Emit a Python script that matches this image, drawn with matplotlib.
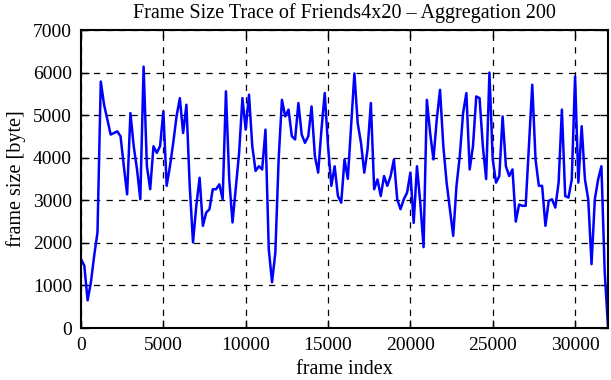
import numpy as np
import matplotlib
matplotlib.use("Agg")
import matplotlib.pyplot as plt

# frame size trace, one value every 200 frames (aggregation 200)
step = 200
frame_size = [
    1620, 1465, 650, 1075, 1700, 2245, 5790, 5245, 4895, 4545,
    4580, 4620, 4505, 3800, 3140, 5050, 4270, 3725, 3025, 6140,
    3800, 3260, 4270, 4115, 4270, 5090, 3340, 3800, 4350, 4970,
    5400, 4580, 5245, 3340, 2010, 2870, 3530, 2400, 2710, 2790,
    3260, 3260, 3375, 3025, 5560, 3490, 2480, 3300, 4115, 5400,
    4660, 5480, 4270, 3690, 3800, 3725, 4660, 1855, 1075, 1775,
    3960, 5360, 4970, 5130, 4505, 4430, 5285, 4545, 4350, 4505,
    5205, 4040, 3650, 4660, 5520, 4270, 3340, 3800, 3100, 2945,
    3960, 3505, 4740, 5980, 4815, 4350, 3650, 4195, 5285, 3260,
    3490, 3100, 3570, 3340, 3570, 3960, 3025, 2790, 3025, 3180,
    3650, 2470, 3800, 2945, 1900, 5360, 4580, 3960, 4895, 5595,
    4270, 3415, 2790, 2165, 3340, 4040, 5050, 5520, 3725, 4270,
    5440, 5400, 4270, 3500, 6000, 3960, 3415, 3570, 4970, 3800,
    3570, 3725, 2500, 2900, 2870, 2870, 4270, 5715, 3960, 3340,
    3340, 2400, 2985, 3025, 2830, 3415, 5130, 3100, 3065, 3490,
    5910, 3415, 4740, 3490, 3025, 1500, 3025, 3490, 3800, 1310,
    25,
]
frame_index = np.arange(len(frame_size)) * step

x_ticks = [0, 5000, 10000, 15000, 20000, 25000, 30000]
y_ticks = [0, 1000, 2000, 3000, 4000, 5000, 6000, 7000]

plt.rcParams['font.family'] = ['Liberation Serif', 'DejaVu Serif']

fig = plt.figure(figsize=(6.11, 3.80), dpi=100)
ax = fig.add_axes([0.1326, 0.1368, 0.8625, 0.7842])

ax.plot(frame_index, frame_size, color='#0000ff', linewidth=1.8)

ax.set_xlim(0, 32000)
ax.set_ylim(0, 7000)
ax.set_xticks(x_ticks)
ax.set_yticks(y_ticks)
ax.tick_params(direction='in', top=True, right=True, length=6, width=1,
               labelsize=14, pad=6.5)
for s in ax.spines.values():
    s.set_linewidth(1.5)

ax.grid(True, color='black', linestyle=(0, (5, 5)), linewidth=0.9)

ax.set_title('Frame Size Trace of Friends4x20 \u2013 Aggregation 200', fontsize=14.5, pad=9)
ax.set_xlabel('frame index', fontsize=14.5, labelpad=4.5)
ax.set_ylabel('frame size [byte]', fontsize=14.5, labelpad=5)

fig.savefig('out.png', dpi=100)
